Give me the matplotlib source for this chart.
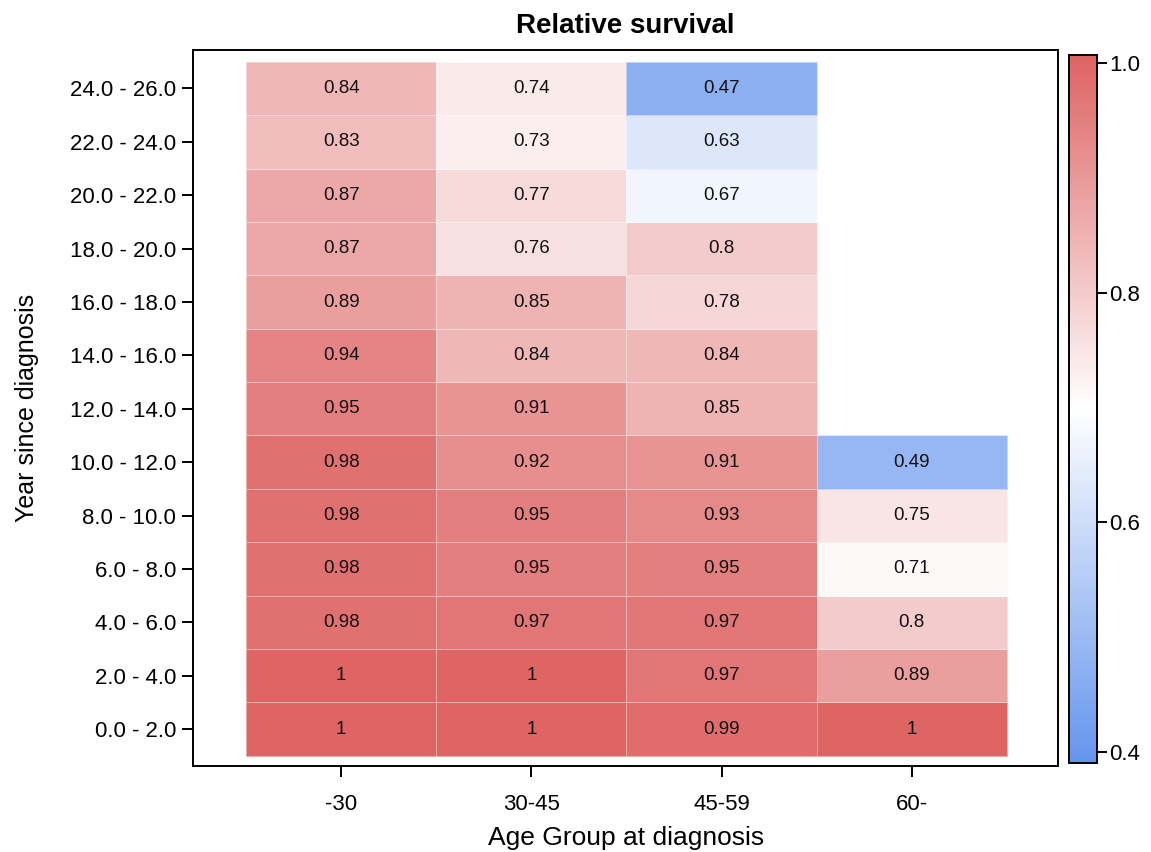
import numpy as np
import matplotlib
matplotlib.use('Agg')
import matplotlib.pyplot as plt
from matplotlib.colors import LinearSegmentedColormap, Normalize

plt.rcParams['font.family'] = ['Liberation Sans', 'DejaVu Sans']

age_groups = ['-30', '30-45', '45-59', '60-']
year_bins = ['0.0 - 2.0', '2.0 - 4.0', '4.0 - 6.0', '6.0 - 8.0', '8.0 - 10.0',
             '10.0 - 12.0', '12.0 - 14.0', '14.0 - 16.0', '16.0 - 18.0',
             '18.0 - 20.0', '20.0 - 22.0', '22.0 - 24.0', '24.0 - 26.0']

# one list per age group, bottom row (0-2 years) first
surv_u30 = [1, 1, 0.98, 0.98, 0.98, 0.98, 0.95, 0.94, 0.89, 0.87, 0.87, 0.83, 0.84]
surv_30_45 = [1, 1, 0.97, 0.95, 0.95, 0.92, 0.91, 0.84, 0.85, 0.76, 0.77, 0.73, 0.74]
surv_45_59 = [0.99, 0.97, 0.97, 0.95, 0.93, 0.91, 0.85, 0.84, 0.78, 0.8, 0.67, 0.63, 0.47]
surv_60 = [1, 0.89, 0.8, 0.71, 0.75, 0.49] + [np.nan] * 7

Z = np.array([surv_u30, surv_30_45, surv_45_59, surv_60], dtype=float).T
Zm = np.ma.masked_invalid(Z)

cmap = LinearSegmentedColormap.from_list('bwr_soft', ['#6495ED', '#FFFFFF', '#DE6363'])
norm = Normalize(vmin=0.39, vmax=1.007)

fig = plt.figure(figsize=(11.51, 8.52), dpi=100)
W, H = 1151., 852.
ax = fig.add_axes([193/W, 1 - 766/H, (1058-193)/W, (766-50)/H])
cax = fig.add_axes([1069/W, 1 - 763/H, (1097-1069)/W, (763-55)/H])

nx, ny = len(age_groups), len(year_bins)
xe = np.arange(nx + 1) - 0.5
ye = np.arange(ny + 1) - 0.5
mesh = ax.pcolormesh(xe, ye, Zm, cmap=cmap, norm=norm,
                     edgecolors=(1, 1, 1, 0.45), linewidth=0.6)

for j in range(ny):
    for i in range(nx):
        v = Z[j, i]
        if np.isnan(v):
            continue
        ax.text(i, j, '%g' % v, ha='center', va='center', fontsize=13.5,
                color='#111111')

ax.set_xlim(-0.78, 3.77)
ax.set_ylim(-0.69, 12.72)
ax.set_xticks(np.arange(nx))
ax.set_xticklabels(age_groups)
ax.set_yticks(np.arange(ny))
ax.set_yticklabels(year_bins)
ax.tick_params(direction='out', length=8, width=1.4, labelsize=16, pad=4)
ax.tick_params(axis='x', pad=12)
for s in ax.spines.values():
    s.set_linewidth(1.4)

# axis labels placed in figure pixels to sit where the reference has them
ax.set_xlabel('Age Group at diagnosis', fontsize=19)
ax.xaxis.label.set_va('baseline')
ax.xaxis.set_label_coords(626 / W, (852 - 845) / H, transform=fig.transFigure)
ax.set_ylabel('Year since diagnosis', fontsize=18)
ax.yaxis.label.set_va('center')
ax.yaxis.set_label_coords(27 / W, 1 - 408 / H, transform=fig.transFigure)

ax.set_title('Relative survival', fontsize=20, fontweight='bold', pad=12)

cb = fig.colorbar(mesh, cax=cax)
cb.set_ticks([0.4, 0.6, 0.8, 1.0])
cb.set_ticklabels(['0.4', '0.6', '0.8', '1.0'])
cb.ax.tick_params(direction='out', length=7, width=1.4, labelsize=16, pad=2)
cb.outline.set_linewidth(1.4)

fig.savefig('out.png', dpi=100)
